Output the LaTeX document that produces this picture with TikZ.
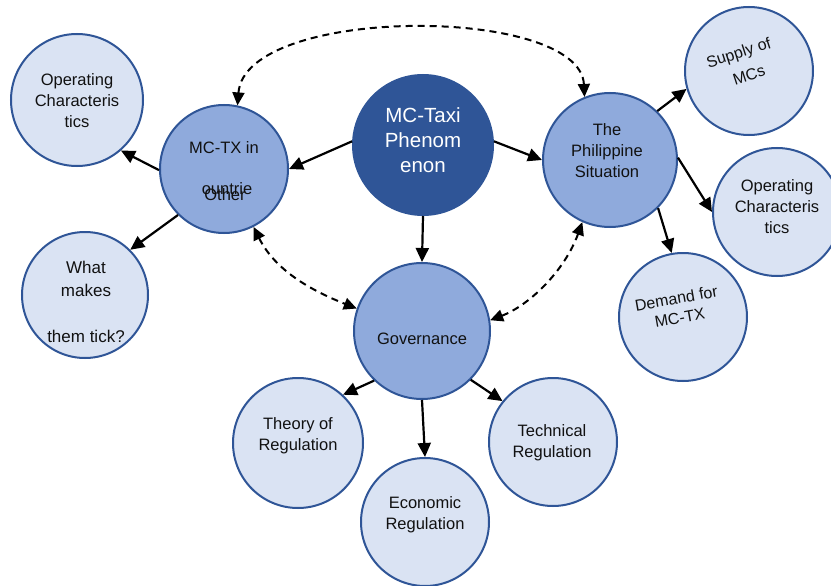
\documentclass[tikz,border=0pt]{standalone}
\usepackage{fontspec}
\setmainfont{Liberation Sans}
\usetikzlibrary{arrows.meta}
\definecolor{dk}{HTML}{2F5597}
\definecolor{md}{HTML}{8FAADC}
\definecolor{lt}{HTML}{DAE3F3}
\definecolor{txt}{HTML}{111111}
\begin{document}
\begin{tikzpicture}[x=1pt,y=-1pt,
 circ/.style={circle,draw=dk,line width=2pt,inner sep=0pt},
 hub/.style={circ,fill=dk},
 mid/.style={circ,fill=md},
 leaf/.style={circ,fill=lt},
 lbl/.style={align=center,text=txt,font=\fontsize{16.5}{21}\selectfont,inner sep=0pt},
 arr/.style={line width=2.2pt,-{Triangle[length=14pt,width=13pt]}},
 darr/.style={line width=2pt,dash pattern=on 7pt off 5pt,{Triangle[length=13pt,width=12pt]}-{Triangle[length=13pt,width=12pt]}}]
\useasboundingbox (0,0) rectangle (831,586);
\fill[white] (0,0) rectangle (831,586);

% circles
\node[hub,minimum size=140pt] (taxi) at (423,145) {};
\node[mid,minimum size=128pt] (mctx) at (224,169) {};
\node[mid,minimum size=134pt] (phil) at (610,160) {};
\node[mid,minimum size=136pt] (gov) at (422,331) {};
\node[leaf,minimum size=132pt] (opl) at (77,100) {};
\node[leaf,minimum size=126pt] (what) at (85,295) {};
\node[leaf,minimum size=128pt] (sup) at (749,71) {};
\node[leaf,minimum size=128pt] (opr) at (777,212) {};
\node[leaf,minimum size=128pt] (dem) at (683,317) {};
\node[leaf,minimum size=130pt] (theo) at (298,443) {};
\node[leaf,minimum size=128pt] (econ) at (425,522) {};
\node[leaf,minimum size=128pt] (tech) at (553,442) {};

% texts
\node[lbl,text=white,font=\fontsize{20.5}{25}\selectfont] (ttaxi) at (423,140) {MC-Taxi\\Phenom\\enon};
\node[lbl] (tmctx1) at (224,148) {MC-TX in};
\node[lbl] (tmctx2) at (227,189) {ountrie};
\node[lbl] (tmctx3) at (225,195) {Other};
\node[lbl] (tphil) at (607,151) {The\\Philippine\\Situation};
\node[lbl] (tgov) at (422,339) {Governance};
\node[lbl] (topl) at (77,101) {Operating\\Characteris\\tics};
\node[lbl,font=\fontsize{17}{23}\selectfont] (twhat) at (86,302) {What\\makes\\ \\them tick?};
\node[lbl,rotate=18,font=\fontsize{16}{19}\selectfont] (tsup1) at (739,54) {Supply of};
\node[lbl,rotate=18,font=\fontsize{16}{19}\selectfont] (tsup2) at (749,75) {MCs};
\node[lbl] (topr) at (777,207) {Operating\\Characteris\\tics};
\node[lbl,rotate=10,font=\fontsize{16}{20}\selectfont] (tdem) at (678,308) {Demand for\\MC-TX};
\node[lbl] (ttheo) at (298,436) {Theory of\\Regulation};
\node[lbl] (tecon) at (425,515) {Economic\\Regulation};
\node[lbl] (ttech) at (552,443) {Technical\\Regulation};

% solid arrows
\draw[arr] (taxi.177) -- (mctx.0);
\draw[arr] (taxi.3) -- (phil.180);
\draw[arr] (taxi.south) -- (gov.north);
\draw[arr] (mctx.181) -- (opl.311);
\draw[arr] (mctx.225) -- (what.45);
\draw[arr] (phil.46) -- (sup.196);
\draw[arr] (phil.2) -- (opr.180);
\draw[arr] (phil.315) -- (dem.100);
\draw[arr] (gov.226) -- (theo.47);
\draw[arr] (gov.south) -- (econ.north);
\draw[arr] (gov.315) -- (tech.141);

% dashed double arrows
\draw[darr] (mctx.78) .. controls (245,5) and (580,5) .. (phil.112);
\draw[darr] (mctx.297) .. controls (275,270) and (310,290) .. (gov.161);
\draw[darr] (gov.9.5) .. controls (530,305) and (565,270) .. (phil.246);
\end{tikzpicture}
\end{document}
